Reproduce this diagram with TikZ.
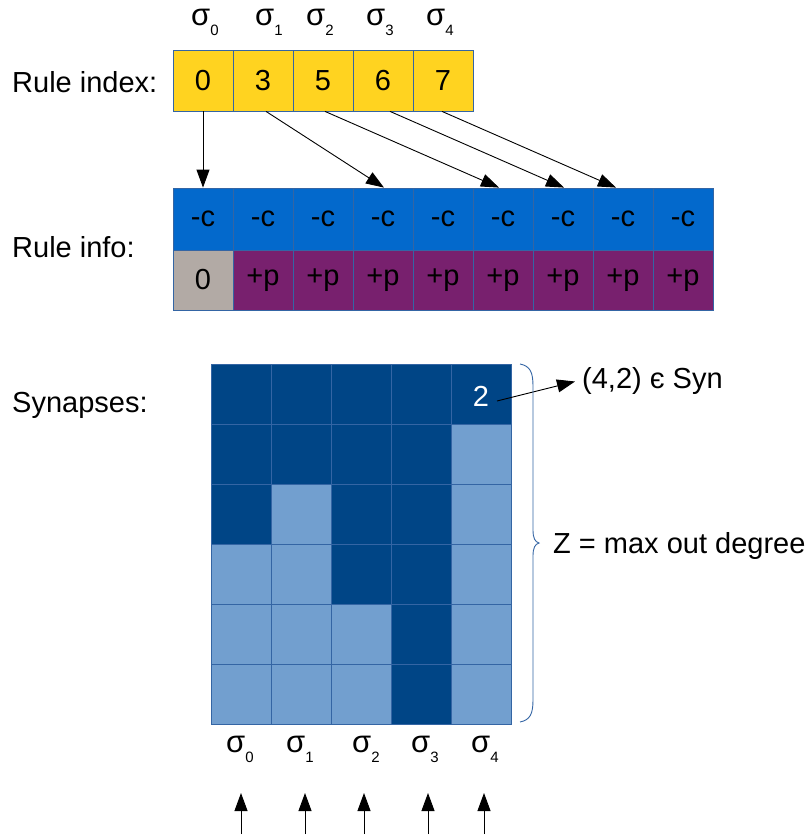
\documentclass[tikz,border=0pt]{standalone}
\usepackage{fontspec}
\setmainfont{Liberation Sans}
\usetikzlibrary{arrows.meta,calc}
\definecolor{ylw}{HTML}{FFD320}
\definecolor{bord}{HTML}{3465A4}
\definecolor{cblue}{HTML}{0369CC}
\definecolor{cpurp}{HTML}{78206E}
\definecolor{cgray}{HTML}{B2AAA5}
\definecolor{dkb}{HTML}{004586}
\definecolor{ltb}{HTML}{729FCF}
\newcommand\fsA{\fontsize{29}{33}\selectfont}
\newcommand\sigl[1]{{\fontsize{31}{33}\selectfont σ}\raisebox{-10pt}{\fontsize{15}{15}\selectfont #1}}
\begin{document}
\begin{tikzpicture}[x=1pt,y=-1pt,
  cellbox/.style={draw=bord, line width=0.8pt, minimum width=60pt, minimum height=60pt, inner sep=0pt, font=\fsA, text=black},
  lbl/.style={anchor=base west, inner sep=0pt, font=\fsA},
  siglbl/.style={anchor=base west, inner sep=0pt, font=\fsA},
  arr/.style={-{Triangle[length=18pt,width=13pt]}, line width=0.9pt, black},
  bracestyle/.style={draw=bord, line width=0.9pt}]
\useasboundingbox (0,0) rectangle (808,835);

% top sigma labels
\node[siglbl] (ts0) at (191,25) {\sigl{0}};
\node[siglbl] (ts1) at (255,25) {\sigl{1}};
\node[siglbl] (ts2) at (306,25) {\sigl{2}};
\node[siglbl] (ts3) at (366,25) {\sigl{3}};
\node[siglbl] (ts4) at (426,25) {\sigl{4}};

% left labels
\node[lbl] (lri) at (12,92) {Rule index:};
\node[lbl] (linf) at (12,257) {Rule info:};
\node[lbl] (lsyn) at (12,412) {Synapses:};

% rule index
\foreach \i/\v in {0/0,1/3,2/5,3/6,4/7}
  \node[cellbox, fill=ylw, minimum height=61pt] (ri\i) at (203+60*\i,80.5) {\v};

% rule info
\foreach \i in {0,...,8}
  \node[cellbox, fill=cblue, minimum height=62pt] (c\i) at (203+60*\i,219) {-c};
\node[cellbox, fill=cgray] (p0) at (203,280) {0};
\foreach \i in {1,...,8}
  \node[cellbox, fill=cpurp] (p\i) at (203+60*\i,280) {+p};

% arrows index -> info
\draw[arr] (ri0.south) -- (c0.north);
\draw[arr] ([xshift=3pt]ri1.south) -- ([xshift=1pt]c3.north);
\draw[arr] ([xshift=2pt]ri2.south) -- ([xshift=-4pt]c5.north);
\draw[arr] ([xshift=7pt]ri3.south) -- ([xshift=1pt]c6.north);
\draw[arr] ([xshift=-1pt]ri4.south) -- ([xshift=-7pt]c7.north);

% synapse grid
\foreach \c/\h in {0/3,1/2,2/4,3/6,4/1}
  \foreach \r in {0,...,5} {
    \ifnum\r<\h\relax\def\cc{dkb}\else\def\cc{ltb}\fi
    \node[cellbox, fill=\cc] (g\r\c) at (241+60*\c,394+60*\r) {};
  }
\node[font=\fsA, text=white, inner sep=0pt] (two) at (481,396) {2};

% membership label and arrow
\node[lbl] (memb) at (582,388) {(4,2) є Syn};
\draw[arr] ([xshift=16pt,yshift=-5pt]two.center) -- ([xshift=-7pt,yshift=-1pt]memb.west);

% brace
\draw[bracestyle] (520,364) .. controls (530,366) and (533,372) .. (533,386)
  -- (533,530) .. controls (533,538) and (535,542) .. (539,543)
  .. controls (535,544) and (533,548) .. (533,556)
  -- (533,700) .. controls (533,714) and (530,720) .. (520,722);
\node[lbl] (zlbl) at (553,553) {Z = max out degree};

% bottom sigma labels
\node[siglbl] (bs0) at (226,752) {\sigl{0}};
\node[siglbl] (bs1) at (286,752) {\sigl{1}};
\node[siglbl] (bs2) at (352,752) {\sigl{2}};
\node[siglbl] (bs3) at (411,752) {\sigl{3}};
\node[siglbl] (bs4) at (471,752) {\sigl{4}};

% bottom arrows
\foreach \i/\x in {0/241,1/305,2/364,3/428,4/484} {
  \coordinate (ab\i) at (\x,834);
  \coordinate (at\i) at (\x,793);
  \draw[arr] (ab\i) -- (at\i);
}
\end{tikzpicture}
\end{document}
